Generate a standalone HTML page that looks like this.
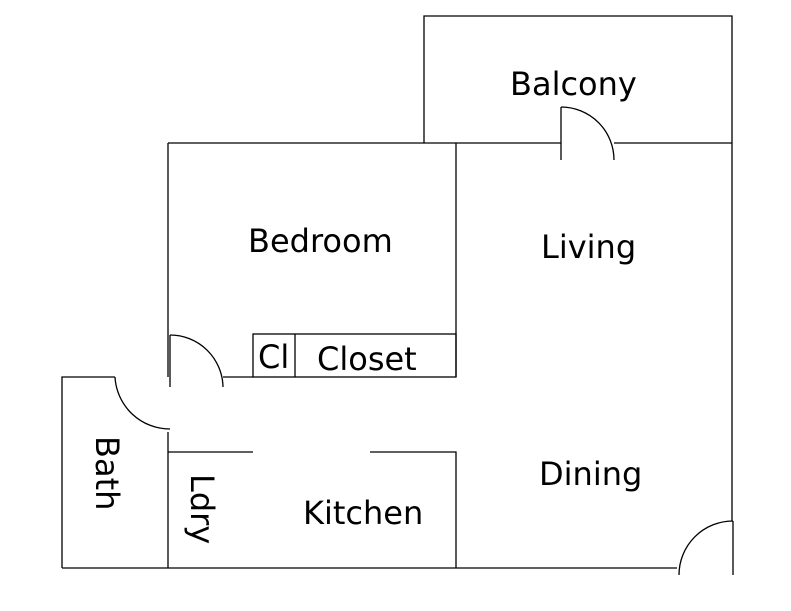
<!DOCTYPE html>
<html><head><meta charset="utf-8"><style>html,body{margin:0;padding:0;background:#fff}</style></head>
<body>
<svg width="791" height="611" viewBox="0 0 791 611" xmlns="http://www.w3.org/2000/svg" style="display:block">
<g stroke="#000" stroke-width="1.3" fill="none">
<polyline points="424,143 424,16 732,16 732,521"/>
<line x1="168" y1="143" x2="561" y2="143"/>
<line x1="614" y1="143" x2="732" y2="143"/>
<line x1="561" y1="107" x2="561" y2="160"/>
<path d="M561,107 A53,53 0 0 1 614,160"/>
<line x1="168" y1="143" x2="168" y2="377"/>
<line x1="456" y1="143" x2="456" y2="377"/>
<rect x="253" y="334" width="203" height="43"/>
<line x1="295" y1="334" x2="295" y2="377"/>
<line x1="223" y1="377" x2="253" y2="377"/>
<line x1="170" y1="335" x2="170" y2="387"/>
<path d="M170,335 A53,53 0 0 1 223,387"/>
<polyline points="115,377 62,377 62,568"/>
<path d="M115,377 A55,55 0 0 0 170,429"/>
<line x1="168" y1="432" x2="168" y2="568"/>
<line x1="62" y1="568" x2="677" y2="568"/>
<line x1="168" y1="452" x2="253" y2="452"/>
<polyline points="370,452 456,452 456,568"/>
<line x1="733" y1="521" x2="733" y2="575"/>
<path d="M733,521 A54,54 0 0 0 679,575"/>
</g>
<g font-family="DejaVu Sans, Liberation Sans, sans-serif" font-size="32" fill="#000">
<text x="510" y="95">Balcony</text>
<text x="248" y="252">Bedroom</text>
<text x="541" y="258">Living</text>
<text x="539" y="485">Dining</text>
<text x="303" y="524">Kitchen</text>
<text x="317" y="370">Closet</text>
<text x="258" y="368">Cl</text>
<text transform="translate(96,436) rotate(90)">Bath</text>
<text transform="translate(191,474) rotate(90)">Ldry</text>
</g>
</svg>
</body></html>
